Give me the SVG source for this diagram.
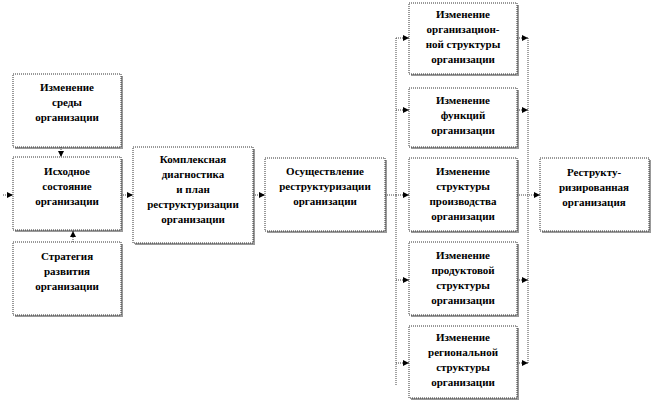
<svg xmlns="http://www.w3.org/2000/svg" width="652" height="402" viewBox="0 0 652 402">
<style>
.b{fill:#fff;stroke:#333;stroke-width:1;stroke-dasharray:1 1}
.s{fill:#999}
text{font-family:"Liberation Serif",serif;font-weight:bold;font-size:11px;text-anchor:middle;fill:#000}
.c{fill:none;stroke:#444;stroke-width:1;stroke-dasharray:1 1}
</style>
<defs><marker id="a" markerWidth="6" markerHeight="6" refX="6" refY="3" orient="auto" markerUnits="userSpaceOnUse"><path d="M0,0L6,3L0,6z" fill="#000"/></marker></defs>
<g id="n1"><rect class="s" x="15" y="76" width="108" height="73"/><rect class="b" x="13" y="74" width="108" height="73"/><text x="67" y="91">Изменение<tspan x="67" dy="15">среды</tspan><tspan x="67" dy="15">организации</tspan></text></g>
<g id="n2"><rect class="s" x="15" y="159" width="108" height="73"/><rect class="b" x="13" y="157" width="108" height="73"/><text x="67" y="175">Исходное<tspan x="67" dy="15">состояние</tspan><tspan x="67" dy="15">организации</tspan></text></g>
<g id="n3"><rect class="s" x="15" y="244" width="108" height="73"/><rect class="b" x="13" y="242" width="108" height="73"/><text x="67" y="260">Стратегия<tspan x="67" dy="15">развития</tspan><tspan x="67" dy="15">организации</tspan></text></g>
<g id="n4"><rect class="s" x="135" y="149" width="120" height="96"/><rect class="b" x="133" y="147" width="120" height="96"/><text x="193" y="163">Комплексная<tspan x="193" dy="15">диагностика</tspan><tspan x="193" dy="15">и план</tspan><tspan x="193" dy="15">реструктуризации</tspan><tspan x="193" dy="15">организации</tspan></text></g>
<g id="n5"><rect class="s" x="267" y="160" width="120" height="73"/><rect class="b" x="265" y="158" width="120" height="73"/><text x="325" y="175">Осуществление<tspan x="325" dy="15">реструктуризации</tspan><tspan x="325" dy="15">организации</tspan></text></g>
<g id="r1"><rect class="s" x="411" y="5" width="108" height="71"/><rect class="b" x="409" y="3" width="108" height="71"/><text x="463" y="18">Изменение<tspan x="463" dy="15">организацион-</tspan><tspan x="463" dy="15">ной структуры</tspan><tspan x="463" dy="15">организации</tspan></text></g>
<g id="r2"><rect class="s" x="411" y="90" width="108" height="59"/><rect class="b" x="409" y="88" width="108" height="59"/><text x="463" y="104">Изменение<tspan x="463" dy="15">функций</tspan><tspan x="463" dy="15">организации</tspan></text></g>
<g id="r3"><rect class="s" x="411" y="160" width="108" height="73"/><rect class="b" x="409" y="158" width="108" height="73"/><text x="463" y="175">Изменение<tspan x="463" dy="15">структуры</tspan><tspan x="463" dy="15">производства</tspan><tspan x="463" dy="15">организации</tspan></text></g>
<g id="r4"><rect class="s" x="411" y="244" width="108" height="73"/><rect class="b" x="409" y="242" width="108" height="73"/><text x="463" y="259">Изменение<tspan x="463" dy="15">продуктовой</tspan><tspan x="463" dy="15">структуры</tspan><tspan x="463" dy="15">организации</tspan></text></g>
<g id="r5"><rect class="s" x="411" y="328" width="108" height="72"/><rect class="b" x="409" y="326" width="108" height="72"/><text x="463" y="341">Изменение<tspan x="463" dy="15">региональной</tspan><tspan x="463" dy="15">структуры</tspan><tspan x="463" dy="15">организации</tspan></text></g>
<g id="n6"><rect class="s" x="542" y="160" width="109" height="73"/><rect class="b" x="540" y="158" width="109" height="73"/><text x="594" y="176">Реструкту-<tspan x="594" dy="15">ризированная</tspan><tspan x="594" dy="15">организация</tspan></text></g>
<g id="connectors" class="c">
<path d="M3,195H13" marker-end="url(#a)"/>
<path d="M61,147V157" marker-end="url(#a)"/>
<path d="M73,242V231" marker-end="url(#a)"/>
<path d="M121,195H133" marker-end="url(#a)"/>
<path d="M253,195H265" marker-end="url(#a)"/>
<path d="M385,195H396M396,38V385"/>
<path d="M396,38H409" marker-end="url(#a)"/>
<path d="M396,110H409" marker-end="url(#a)"/>
<path d="M396,195H409" marker-end="url(#a)"/>
<path d="M396,280H409" marker-end="url(#a)"/>
<path d="M396,363H409" marker-end="url(#a)"/>
<path d="M528,38V363"/>
<path d="M517,38H528" marker-end="url(#a)"/>
<path d="M517,110H528" marker-end="url(#a)"/>
<path d="M517,280H528" marker-end="url(#a)"/>
<path d="M517,363H528" marker-end="url(#a)"/>
<path d="M517,195H540" marker-end="url(#a)"/>
</g>
</svg>
